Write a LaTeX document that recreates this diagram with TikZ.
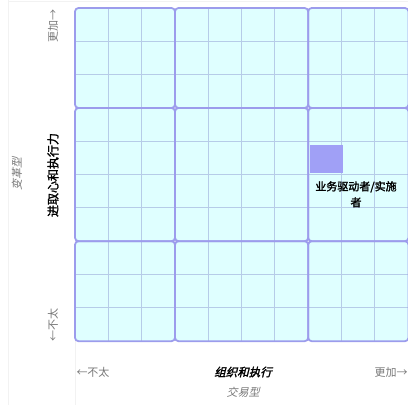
\documentclass[tikz,border=0pt]{standalone}
\usepackage{fontspec}
\setmainfont{Noto Sans CJK SC}
\newfontfamily\cjk{Noto Sans CJK SC}
\newfontfamily\cjkb[FakeBold=1.8]{Noto Sans CJK SC}
\newfontfamily\cjki[FakeSlant=0.25]{Noto Sans CJK SC}
\newfontfamily\cjkbi[FakeSlant=0.25,FakeBold=1.8]{Noto Sans CJK SC}
\definecolor{cellfill}{HTML}{DFFFFF}
\definecolor{minorline}{HTML}{B6CCE8}
\definecolor{majorline}{HTML}{9C9CEC}
\definecolor{markfill}{HTML}{A0A0F6}
\definecolor{axisgray}{HTML}{777777}
\definecolor{faint}{HTML}{F2F2F2}
\tikzset{
  block/.style={draw=majorline, line width=1.8pt, rounded corners=3.5pt},
  blockfill/.style={fill=cellfill, rounded corners=3.5pt},
  minor/.style={draw=minorline, line width=1pt},
  axislabel/.style={text=axisgray, font=\cjk\fontsize{11}{13}\selectfont, inner sep=0pt},
  axistitle/.style={text=black, font=\cjkb\fontsize{12}{13}\selectfont, inner sep=0pt},
  axissub/.style={text=axisgray, font=\cjki\fontsize{11}{13}\selectfont, inner sep=0pt},
  marklabel/.style={text=black, font=\cjkb\fontsize{11}{16}\selectfont, align=center, inner sep=0pt}
}
\begin{document}
\begin{tikzpicture}[x=1pt,y=-1pt]
\useasboundingbox (0,0) rectangle (408,405);
% faint page lines
\draw[faint, line width=0.6pt] (8,0) -- (8,405);
\draw[faint, line width=0.6pt] (75,341) -- (75,405);
\draw[faint, line width=0.6pt] (8,1) -- (408,1);
% grid
\def\cs{33.3}
\foreach \xa/\xb in {75/175, 175/308.2, 308.2/408.5}{
  \foreach \ya/\yb in {8/108, 108/241.2, 241.2/341.2}{
    \fill[blockfill] (\xa,\ya) rectangle (\xb,\yb);
  }
}
\foreach \k in {1,2,4,5,6,8,9}{
  \draw[minor] ({75+\k*\cs},8) -- ({75+\k*\cs},341.2);
  \draw[minor] (75,{8+\k*\cs}) -- (408.5,{8+\k*\cs});
}
\foreach \xa/\xb in {75/175, 175/308.2, 308.2/408.5}{
  \foreach \ya/\yb in {8/108, 108/241.2, 241.2/341.2}{
    \draw[block] (\xa,\ya) rectangle (\xb,\yb);
  }
}
% marker
\node[fill=markfill, minimum width=33pt, minimum height=28pt, inner sep=0pt, anchor=north west] (mark) at (310,145) {};
\node[marklabel, anchor=north] (marktext) at (356,181) {业务驱动者/实施\\者};
% vertical axis
\node[axislabel, rotate=90] (ytop) at (53,26) {更加→};
\node[axistitle, rotate=90] (ytitle) at (53,175) {进取心和执行力};
\node[axissub, rotate=90] (ysub) at (17,174) {变革型};
\node[axislabel, rotate=90] (ybot) at (53,325) {←不太};
% horizontal axis
\node[axislabel] (xleft) at (93,372) {←不太};
\node[text=black, font=\cjkbi\fontsize{11.5}{13}\selectfont, inner sep=0pt] (xtitle) at (243,372) {组织和执行};
\node[axissub] (xsub) at (243,392) {交易型};
\node[axislabel] (xright) at (391,372) {更加→};
\end{tikzpicture}
\end{document}
